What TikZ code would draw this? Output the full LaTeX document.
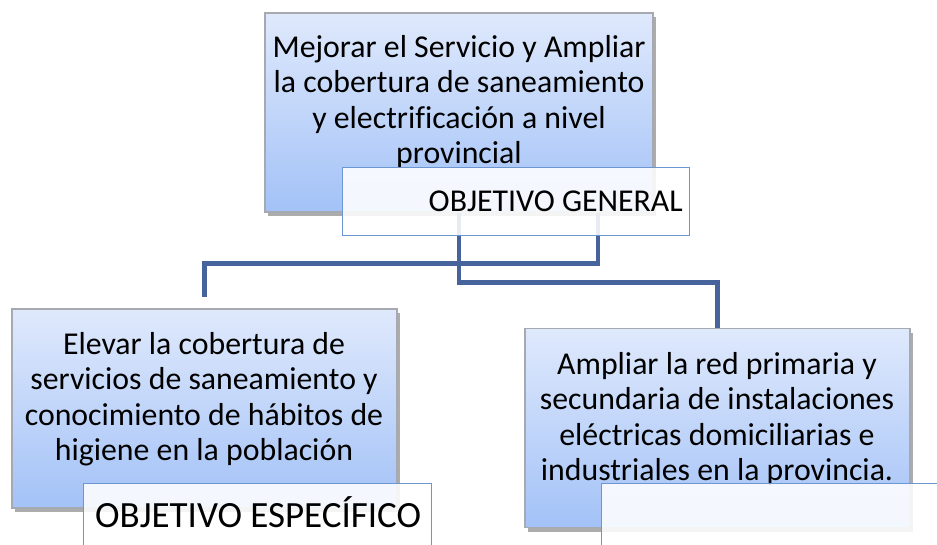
\documentclass[tikz,border=0pt]{standalone}
\usepackage{fontspec}
\setmainfont{Carlito}[Ligatures=CommonOff]
\usetikzlibrary{shadows}
\definecolor{boxtop}{HTML}{DFE9FC}
\definecolor{boxbot}{HTML}{A3C2F7}
\definecolor{boxedge}{HTML}{A6A9B0}
\definecolor{lineblue}{HTML}{46639B}
\definecolor{lbledge}{HTML}{6C96D2}
\tikzset{
  gbox/.style={rectangle, draw=boxedge, line width=1.2pt, top color=boxtop, bottom color=boxbot,
    minimum width=#1, minimum height=199pt, inner sep=0pt,
    drop shadow={shadow xshift=2.5pt, shadow yshift=-4pt, opacity=0.5, fill=black!65}},
  gbox/.default=387pt,
  lbl/.style={rectangle, draw=lbledge, line width=1.4pt, fill=white, fill opacity=0.88, draw opacity=1,
    inner sep=0pt, anchor=north west},
  btext/.style={align=center, inner sep=0pt, anchor=north,
    font=\fontsize{31.8}{35.5}\selectfont},
  conn/.style={draw=lineblue, line width=4.3pt},
}
\begin{document}
\begin{tikzpicture}[x=1pt,y=-1pt]
\useasboundingbox (0,0) rectangle (937,545);
\clip (0,0) rectangle (937,545);
% boxes
\node[gbox=388pt] (gbox) at (459,112.5) {};
\node[btext] (gtext) at (459,35) {Mejorar el Servicio y Ampliar\\la cobertura de saneamiento\\y electrificación a nivel\\provincial};
\node[gbox=385pt] (ebox) at (204.5,408.5) {};
\node[btext] (etext) at (204,332) {Elevar la cobertura de\\servicios de saneamiento y\\conocimiento de hábitos de\\higiene en la población};
\node[gbox=385pt] (rbox) at (717.5,428) {};
\node[btext] (rtext) at (717,352) {Ampliar la red primaria y\\secundaria de instalaciones\\eléctricas domiciliarias e\\industriales en la provincia.};
% connectors
\draw[conn] ([xshift=139pt]gbox.south) -- ++(0,51) -| ([yshift=11pt]ebox.north);
\draw[conn] (gbox.south) -- ++(0,70) -| (rbox.north);
% labels
\node[lbl, minimum width=347pt, minimum height=68pt] (glbl) at (342,167) {};
\node[inner sep=0pt, anchor=east, font=\fontsize{31.8}{36}\selectfont] (gltext) at (683,201) {OBJETIVO GENERAL};
\node[lbl, minimum width=348pt, minimum height=80pt] (elbl) at (83,483) {};
\node[inner sep=0pt, anchor=base west, font=\fontsize{37}{42}\selectfont] (eltext) at (95,527) {OBJETIVO ESPECÍFICO};
\node[lbl, minimum width=350pt, minimum height=80pt] (rlbl) at (601,483) {};
\end{tikzpicture}
\end{document}
